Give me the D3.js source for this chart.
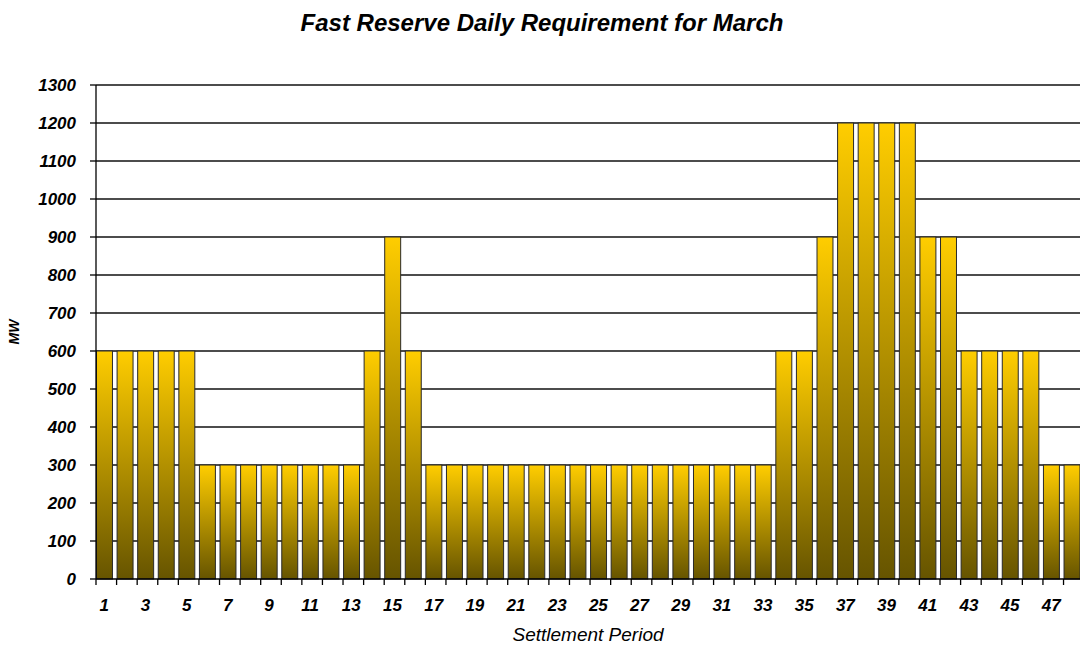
<!DOCTYPE html>
<html><head><meta charset="utf-8">
<script src="https://cdn.jsdelivr.net/npm/d3@7"></script>
<style>body{margin:0;background:#fff}svg{display:block}text{font-family:"Liberation Sans",Arial,sans-serif}</style>
</head><body><svg id="c" width="1080" height="646"></svg>
<script>
const categories = d3.range(1, 49);
const values = [600,600,600,600,600,300,300,300,300,300,300,300,300,600,900,600,
  300,300,300,300,300,300,300,300,300,300,300,300,300,300,300,300,300,600,600,900,
  1200,1200,1200,1200,900,900,600,600,600,600,300,300];
const yTicks = [0,100,200,300,400,500,600,700,800,900,1000,1100,1200,1300];
const xLabels = categories.filter(d => d % 2 === 1);
const title = "Fast Reserve Daily Requirement for March";
const xTitle = "Settlement Period";
const yTitle = "MW";

const svg = d3.select("#c");
const L = 96, R = 1080, T = 85, B = 579;
const y = d3.scaleLinear().domain([0,1300]).range([B,T]);
const x = d3.scaleBand().domain(categories).range([L,R]).paddingInner(0.2).paddingOuter(0).align(0);
const step = x.step();

const defs = svg.append("defs");
const g = defs.append("linearGradient").attr("id","gold").attr("x1",0).attr("y1",0).attr("x2",0).attr("y2",1);
g.append("stop").attr("offset","0%").attr("stop-color","#FFCD00");
g.append("stop").attr("offset","100%").attr("stop-color","#665400");

// gridlines
svg.append("g").selectAll("line").data(yTicks.filter(d=>d>0)).join("line")
  .attr("x1",L).attr("x2",R).attr("y1",d=>y(d)).attr("y2",d=>y(d))
  .attr("stroke","#111").attr("stroke-width",1.3);

// bars
svg.append("g").selectAll("rect").data(values).join("rect")
  .attr("x",(d,i)=>x(categories[i])+0.5)
  .attr("y",d=>y(d))
  .attr("width",x.bandwidth()-0.5)
  .attr("height",d=>B-y(d))
  .attr("fill","url(#gold)")
  .attr("stroke","#2a2a2a").attr("stroke-width",1);

// axes lines
svg.append("line").attr("x1",L).attr("x2",L).attr("y1",T).attr("y2",B).attr("stroke","#000").attr("stroke-width",1.3);
svg.append("line").attr("x1",L).attr("x2",R).attr("y1",B).attr("y2",B).attr("stroke","#000").attr("stroke-width",1.3);
// y ticks
svg.append("g").selectAll("line").data(yTicks).join("line")
  .attr("x1",L-6).attr("x2",L).attr("y1",d=>y(d)).attr("y2",d=>y(d)).attr("stroke","#000").attr("stroke-width",1.3);
svg.append("g").selectAll("text").data(yTicks).join("text")
  .attr("x",L-20).attr("y",d=>y(d)).attr("dy","0.36em").attr("text-anchor","end")
  .attr("font-size",17).attr("font-weight","bold").attr("font-style","italic").text(d=>d);
// x ticks at band boundaries
svg.append("g").selectAll("line").data(d3.range(0,49)).join("line")
  .attr("x1",i=>L+i*step).attr("x2",i=>L+i*step).attr("y1",B).attr("y2",B+6)
  .attr("stroke","#000").attr("stroke-width",1.3);
svg.append("g").selectAll("text").data(xLabels).join("text")
  .attr("x",d=>x(d)+step/2-2).attr("y",611).attr("text-anchor","middle")
  .attr("font-size",17).attr("font-weight","bold").attr("font-style","italic").text(d=>d);

// titles
svg.append("text").attr("x",542).attr("y",31).attr("text-anchor","middle")
  .attr("font-size",24).attr("font-weight","bold").attr("font-style","italic").text(title);
svg.append("text").attr("x",(L+R)/2).attr("y",641).attr("text-anchor","middle")
  .attr("font-size",19).attr("font-style","italic").text(xTitle);
svg.append("text").attr("transform",`translate(19,${(T+B)/2}) rotate(-90)`).attr("text-anchor","middle")
  .attr("font-size",14).attr("font-weight","bold").attr("font-style","italic").text(yTitle);
</script></body></html>
